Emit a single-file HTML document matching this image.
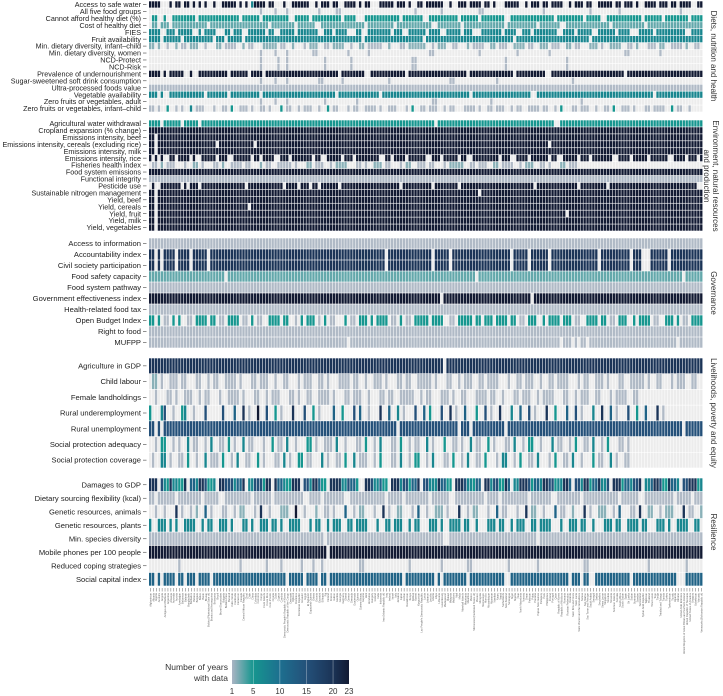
<!DOCTYPE html>
<html><head><meta charset="utf-8"><style>
html,body{margin:0;padding:0;background:#fff;}
svg{display:block;font-family:"Liberation Sans",sans-serif;}
</style></head><body>
<svg id="chart" width="723" height="696" viewBox="0 0 723 696" xmlns="http://www.w3.org/2000/svg">
<defs>
<linearGradient id="cbar" x1="0" x2="1" y1="0" y2="0">
<stop offset="0" stop-color="#aab4c3"/><stop offset="0.18" stop-color="#16968f"/><stop offset="0.41" stop-color="#1d6f8f"/><stop offset="0.64" stop-color="#245079"/><stop offset="0.86" stop-color="#1b3457"/><stop offset="1" stop-color="#121a33"/>
</linearGradient>
</defs>
<g id="cells"></g>
<g id="rowlabels"></g>
<g id="collabels"></g>
<g font-size="8" fill="#333">
<text transform="translate(711,56) rotate(90)" text-anchor="middle">Diets, nutrition and health</text>
<text transform="translate(713,176) rotate(90)" text-anchor="middle">Environment, natural resources</text>
<text transform="translate(704,176) rotate(90)" text-anchor="middle">and production</text>
<text transform="translate(711,293) rotate(90)" text-anchor="middle">Governance</text>
<text transform="translate(711,413) rotate(90)" text-anchor="middle">Livelihoods, poverty and equity</text>
<text transform="translate(711,532) rotate(90)" text-anchor="middle">Resilience</text>
</g>
<g>
<text x="228" y="670" text-anchor="end" font-size="8.5" fill="#333">Number of years</text>
<text x="228" y="681" text-anchor="end" font-size="8.5" fill="#333">with data</text>
<rect x="232" y="660" width="117" height="24" fill="url(#cbar)"/>
<g id="cbticks"></g>
</g>
</svg>
<script>
const NS="http://www.w3.org/2000/svg";
const codeYears={'.':0,a:1,b:2,c:3,d:5,e:7,f:12,g:15,h:20,z:23};
const colorStops=[1,5,10,15,20,23];
const colorHex=["#b0bac6","#16968f","#1d6f8f","#245079","#1b3457","#121a33"];
const cbTicks=[1,5,10,15,20,23];
const countries=["Afghanistan","Albania","Algeria","Andorra","Angola","Antigua and Barbuda","Argentina","Armenia","Australia","Austria","Azerbaijan","Bahamas","Bahrain","Bangladesh","Barbados","Belarus","Belgium","Belize","Benin","Bhutan","Bolivia (Plurinational State of)","Bosnia and Herzegovina","Botswana","Brazil","Brunei Darussalam","Bulgaria","Burkina Faso","Burundi","Cabo Verde","Cambodia","Cameroon","Canada","Central African Republic","Chad","Chile","China","Colombia","Comoros","Congo","Cook Islands","Costa Rica","Cote d'Ivoire","Croatia","Cuba","Cyprus","Czechia","Democratic People's Republic of Korea","Democratic Republic of the Congo","Denmark","Djibouti","Dominica","Dominican Republic","Ecuador","Egypt","El Salvador","Equatorial Guinea","Eritrea","Estonia","Eswatini","Ethiopia","Fiji","Finland","France","Gabon","Gambia","Georgia","Germany","Ghana","Greece","Grenada","Guatemala","Guinea","Guinea-Bissau","Guyana","Haiti","Honduras","Hungary","Iceland","India","Indonesia","Iran (Islamic Republic of)","Iraq","Ireland","Israel","Italy","Jamaica","Japan","Jordan","Kazakhstan","Kenya","Kiribati","Kuwait","Kyrgyzstan","Lao People's Democratic Republic","Latvia","Lebanon","Lesotho","Liberia","Libya","Lithuania","Luxembourg","Madagascar","Malawi","Malaysia","Maldives","Mali","Malta","Marshall Islands","Mauritania","Mauritius","Mexico","Micronesia (Federated States of)","Monaco","Mongolia","Montenegro","Morocco","Mozambique","Myanmar","Namibia","Nauru","Nepal","Netherlands","New Zealand","Nicaragua","Niger","Nigeria","Niue","North Macedonia","Norway","Oman","Pakistan","Palau","Panama","Papua New Guinea","Paraguay","Peru","Philippines","Poland","Portugal","Qatar","Republic of Korea","Republic of Moldova","Romania","Russian Federation","Rwanda","Saint Kitts and Nevis","Saint Lucia","Saint Vincent and the Grenadines","Samoa","San Marino","Sao Tome and Principe","Saudi Arabia","Senegal","Serbia","Seychelles","Sierra Leone","Singapore","Slovakia","Slovenia","Solomon Islands","Somalia","South Africa","South Sudan","Spain","Sri Lanka","Sudan","Suriname","Sweden","Switzerland","Syrian Arab Republic","Tajikistan","Thailand","Timor-Leste","Togo","Tonga","Trinidad and Tobago","Tunisia","Turkey","Turkmenistan","Tuvalu","Uganda","Ukraine","United Arab Emirates","United Kingdom of Great Britain and Northern Ireland","United Republic of Tanzania","United States of America","Uruguay","Uzbekistan","Vanuatu","Venezuela (Bolivarian Republic of)","Viet Nam","Yemen","Zambia"];

const dietLabels=["Access to safe water","All five food groups","Cannot afford healthy diet (%)","Cost of healthy diet","FIES","Fruit availability","Min. dietary diversity, infant–child","Min. dietary diversity, women","NCD-Protect","NCD-Risk","Prevalence of undernourishment","Sugar-sweetened soft drink consumption","Ultra-processed foods value","Vegetable availability","Zero fruits or vegetables, adult","Zero fruits or vegetables, infant–child"];
const dietRows=[
"z4 .3 z1 .1 z2 .1 z2 .1 z1 .1 z1 .1 z1 .2 z1 .2 z5 .1 z1 .1 z1 .1 e1 z4 .1 z2 .3 z1 .2 z6 .2 z1 .1 z3 .1 z2 .2 z4 .1 z1 .1 z2 .3 z5 .1 z3 .1 z1 .2 z2 .1 z6 .2 z1 .2 z3 .1 z4 .1 z2 .1 z1 .3 z5 .2 z1 .1 z3 .1 z2 .1 z4 .2 z1 .1 z3 .1 z2 .2 z5 .1 z2 .1 z3 .1 z1 .2 z4 .1 z3 .1 z2 .1 z4 .2 z3 .1 z2 .1 z5 .1 z3 .2 z4 .1 z2 .1 z6 .2 z3 .1 z4",
".38 a1 .4 a1 .3 a1 .10 a1 .5 a2 .25 a1 .8 a1 .12 a2 .20 a1 .15 a1 .9 a1 .20 a1 .14 a1 .30",
".1 d2 .2 d1 .2 d8 .1 d14 .1 d6 .1 d9 .2 d5 .1 d10 .1 d4 .3 d12 .1 d7 .2 d10 .1 d6 .1 d8 .2 d15 .1 d9 .1 d5 .2 d12 .1 d6 .1 d8 .1 d20 .1 d10",
".1 c2 .1 c3 .1 c12 .1 c20 .1 c8 .1 c6 .2 c15 .1 c9 .1 c12 .2 c8 .1 c14 .1 c10 .1 c7 .2 c15 .1 c11 .1 c20 .1 c14 .1 c10",
"e4 .2 e3 .1 e5 .2 e1 .1 e4 .3 e2 .1 e3 .2 e6 .1 e2 .2 e5 .1 e7 .2 e3 .1 e4 .3 e2 .2 e8 .1 e3 .2 e6 .1 e4 .2 e5 .1 e3 .3 e7 .1 e4 .2 e3 .1 e8 .2 e4 .1 e5 .2 e6 .1 e4 .3 e5 .1 e10 .2 e5 .1 e6",
"e4 .1 e6 .1 e10 .1 e3 .1 e5 .1 e40 .1 e20 .1 e30 .1 e25 .1 e40",
"b2 .1 b1 .2 a1 .2 b1 .1 a2 .1 b3 .2 a1 .3 b2 .1 a4 .2 b1 .1 a2 .3 b5 .1 a2 .2 b1 .3 a1 .1 b3 .2 a2 .1 b4 .2 a1 .2 b2 .1 a5 .2 b1 .3 a2 .1 b6 .2 a1 .1 b3 .2 a2 .3 b1 .1 a4 .2 b2 .1 a3 .2 b4 .1 a2 .2 b3 .1 a3 .2 b2 .1 a2 .3 b3 .1 a1 .2 b4 .2 a2 .1 b1 .3 a3 .1 b2 .2 a4 .1 b1 .2 a2 .1 b3 .3 a2 .1 b2",
".38 a1 .4 a1 .3 a1 .8 a2 .10 a1 .6 a1 .20 a2 .15 a1 .12 a1 .10 a1 .25 a2 .10 a1 .30",
".38 a1 .5 a1 .2 a1 .12 a1 .8 a1 .20 a2 .30 a1 .20 a1 .40",
".38 a1 .5 a1 .2 a1 .12 a1 .8 a1 .20 a2 .30 a1 .20 a1 .40",
"z4 .1 z1 .1 z5 .2 z1 .2 z10 .1 z6 .1 z4 .1 z25 .1 z8 .2 z12 .1 z20 .1 z15 .1 z10 .2 z25 .1 z30",
".38 a1 .4 a1 .3 a1 .10 a2 .6 a1 .15 a1 .20 a2 .14 a1 .25 a1 .40",
"a190",
"e3 .1 e1 .2 e12 .1 e7 .1 e10 .1 e25 .1 e14 .1 e30 .1 e20 .2 e40 .1 e20",
".38 a1 .4 a1 .3 a1 .12 a1 .10 a1 .25 a2 .18 a1 .30 a1 .40",
"a2 .1 a1 .2 d1 .2 a1 .1 a1 .2 e1 .1 a3 .3 a1 .2 a2 .1 d1 .2 a3 .1 a1 .2 a2 .1 a1 .3 d1 .1 a2 .2 a1 .1 a3 .2 a1 .2 d1 .1 a2 .3 a1 .1 a2 .2 a4 .1 a1 .2 a3 .3 a1 .1 d1 .2 a2 .1 a3 .2 a1 .1 a2 .3 a4 .1 a1 .2 a2 .1 a3 .2 a1 .1 a2 .2 a4 .1 a2 .2 a1 .1 d1 .3 a2 .1 a3 .2 a1 .2 a2 .1 d1 .2 a3 .1 a1 .3 a2 .1 a4 .2 d1 .1 a2 .2 a1"
];

const envLabels=["Agricultural water withdrawal","Cropland expansion (% change)","Emissions intensity, beef","Emissions intensity, cereals (excluding rice)","Emissions intensity, milk","Emissions intensity, rice","Fisheries health index","Food system emissions","Functional integrity","Pesticide use","Sustainable nitrogen management","Yield, beef","Yield, cereals","Yield, fruit","Yield, milk","Yield, vegetables"];
const envRows=[
"d4 .1 d6 .1 d5 .1 d80 .1 d40 .2 d60",
"z190",
"z2 .1 z187",
"z2 .1 z20 .1 z12 .1 z100 .1 z60",
"z2 .1 z187",
"z1 .1 z1 .1 z1 .2 z2 .1 z4 .1 z1 .2 z5 .1 z3 .2 z6 .1 z2 .1 z4 .2 z3 .1 z7 .1 z2 .2 z5 .1 z3 .1 z8 .2 z2 .1 z4 .1 z6 .2 z3 .1 z5 .1 z2 .2 z9 .1 z3 .2 z4 .1 z6 .1 z2 .2 z5 .1 z3 .1 z7 .2 z4 .1 z5 .1 z6 .2 z4 .1 z3 .1 z5",
".1 a2 .1 b1 .1 a3 .3 a1 .2 b2 .1 a1 .3 a2 .1 b1 .2 a4 .1 a2 .3 b1 .1 a2 .2 a5 .1 a1 .3 b2 .1 a3 .2 a1 .1 b4 .3 a2 .1 a1 .2 b3 .1 a2 .3 a1 .1 b2 .2 a3 .1 a2 .3 a1 .1 b5 .2 a2 .1 a3 .2 b2 .1 a4 .2 a1 .1 b3 .2 a2 .1 a1 .3 b2 .1 a3",
"z190",
"a190",
".1 z1 .2 z7 .1 z1 .1 z3 .1 z15 .1 z12 .1 z4 .1 z3 .1 z2 .1 z6 .1 z20 .1 z10 .1 z8 .1 z25 .1 z14 .1 z9 .1 z30",
"z2 .1 z110 .1 z76",
"z2 .1 z187",
"z2 .1 z31 .1 z155",
"z2 .1 z140 .1 z46",
"z2 .1 z187",
"z2 .1 z187"
];

const govLabels=["Access to information","Accountability index","Civil society participation","Food safety capacity","Food system pathway","Government effectiveness index","Health-related food tax","Open Budget Index","Right to food","MUFPP"];
const govRows=[
"a190",
"h2 .1 h1 .1 h4 .1 h4 .1 h5 .1 h60 .1 h15 .1 h5 .1 h20 .1 h5 .1 h6 .1 h16 .1 h10 .1 h3 .3 h6 .1 h15 .1 h20 .1 h10",
"h2 .1 h1 .1 h4 .1 h4 .1 h5 .1 h60 .1 h15 .1 h5 .1 h20 .1 h5 .1 h6 .1 h16 .1 h10 .1 h3 .3 h6 .1 h15 .1 h20 .1 h10",
"c26 .1 c85 .1 c70 .1 c6",
"a190",
"z100 .1 z30 .1 z58",
"a190",
"d2 .1 d1 .1 a2 .1 d1 .1 d1 .2 a2 .1 d4 .1 d2 .1 a2 .1 d4 .1 a2 .1 d1 .1 a2 .2 d4 .1 d2 .2 a1 .1 d1 .1 d3 .1 a1 .1 d1 .1 a2 .3 d1 .1 a2 .1 d3 .1 d1 .1 d4 .1 a2 .1 d1 .1 a2 .1 d5 .1 d4 .2 a2 .1 d5 .1 d2 .1 d3 .1 d4 .1 d2 .1 a2 .1 d3 .2 d1 .1 d4 .1 d3 .1 a2 .2 d4 .1 d2 .1 a2 .1 d3 .2 d1 .1 d4 .1 a2 .2 d3 .1 d1 .1 a2 .1 d4 .2 d2 .1 a1 .1 d3 .1 d5 .2 a2 .1 d4",
"a190",
"a68 .1 a72 .1 a3 .1 a1 .1 a2 .1 a30 .1 a12"
];

const livLabels=["Agriculture in GDP","Child labour","Female landholdings","Rural underemployment","Rural unemployment","Social protection adequacy","Social protection coverage"];
const livRows=[
"h101 .1 h88",
".1 b2 .1 a1 .2 a3 .1 a2 .3 a2 .2 a1 .1 a2 .2 a4 .1 a1 .3 a2 .1 a3 .2 a1 .2 a2 .3 a1 .1 a3 .2 a2 .1 a1 .3 a4 .1 a2 .2 a1 .2 a3 .1 a1 .3 a2 .1 a2 .2 a5 .1 a1 .3 a2 .2 a1 .1 a3 .2 a2 .1 a4 .3 a1 .2 a2 .1 a3 .2 a1 .2 a2 .1 a4 .3 a1 .1 a2 .2 a3 .1 a1 .3 a2 .2 a5 .1 a1 .2 a2 .3 a1 .1 a3 .2 a2",
".2 a1 .3 a2 .1 a1 .2 a3 .2 a1 .1 a2 .3 a1 .2 a4 .1 a1 .3 a2 .2 a1 .1 a3 .3 a2 .1 a1 .2 a2 .2 a4 .1 a1 .3 a2 .1 a3 .2 a1 .3 a2 .1 a2 .2 a5 .2 a1 .1 a2 .3 a3 .1 a1 .2 a2 .3 a4 .1 a2 .2 a1 .3 a2 .1 a3 .2 a1 .1 a4 .3 a2 .2 a1 .1 a3 .2 a2 .3 a1 .1 a4 .2 a2",
"d1 .3 e1 g1 .2 a1 .2 d1 e1 .2 a1 .3 g1 .5 g1 .3 f1 .2 h1 .1 a1 .2 z1 .2 g1 .2 d1 .1 a1 .3 h1 .3 g1 .2 d1 .1 a1 .4 f1 .2 d1 .3 g1 .1 f1 .2 a1 .3 h1 .2 f1 .2 e1 .1 a1 .3 g1 .2 f1 .1 d1 .3 g1 .2 h1 .1 a1 .2 f1 .3 d1 .2 g1 .1 a1 .2 h1 .3 e1 .2 f1 .2 g1 .1 a1 .3 h1 .2 d1 .3 f1 .2 g1 .1 a1 .3 e1 .2 h1 .2 f1 .1 a1 .3 g1 .2 d1 .2 f1 .3 h1 .1 a1",
"g2 .1 g1 .1 g80 .1 g20 .1 g3 .1 g11 .1 g60 .1 g20",
".2 a1 .1 d2 .2 a1 .1 a1 .2 e1 .1 a2 .2 a1 .1 e1 .2 a2 .1 d1 .1 a1 .2 e1 .1 a2 .3 a1 .2 d1 .1 a2 .1 e1 .2 a1 .3 d2 .1 a1 .2 a3 .1 e1 .2 a1 .3 a2 .1 d1 .2 a1 .1 e1 .3 a2 .1 d1 .2 a1 .1 a2 .2 e1 .1 a1 .3 d1 .2 a2 .1 a1 .2 e1 .1 a2 .2 d1 .1 a1 .3 a2 .1 e1 .2 a1 .1 d2 .2 a1 .3 e1 .1 a2 .2 a1 .1 d1 .2 a2 .1 e1 .2 a1 .1 d1 .3 a2 .1 a1",
".1 a1 .2 e2 .1 a1 .2 a2 .1 d1 .2 a1 .2 e1 .1 a3 .1 d1 .2 a1 .1 e1 .2 a2 .2 d1 .1 a1 .3 a2 .1 e1 .1 a1 .2 d2 .1 a2 .3 e1 .1 a1 .2 a2 .1 d1 .2 e1 .1 a3 .2 a1 .1 d1 .3 a2 .1 e1 .2 a1 .1 d2 .2 a1 .1 e1 .3 a2 .1 d1 .2 a1 .1 e1 .2 a2 .1 d1 .3 a1 .1 e2 .2 a1 .1 d1 .2 a2 .1 e1 .3 a1 .1 d1 .2 a2 .1 e1 .2 a1 .3 d1 .1 a2 .2 e1 .1 a1 .2 a2"
];

const resLabels=["Damages to GDP","Dietary sourcing flexibility (kcal)","Genetic resources, animals","Genetic resources, plants","Min. species diversity","Mobile phones per 100 people","Reduced coping strategies","Social capital index"];
const resRows=[
"h3 .1 g1 e1 d1 h1 e2 d2 h1 .1 f2 e1 h2 g1 d2 e1 .1 h2 g3 e1 f2 h1 .1 e2 g3 d1 h2 .1 h1 f2 e1 d2 h3 .1 g2 e1 h2 f1 d2 .1 h4 e2 g1 f2 d1 .2 h2 g1 e2 f1 d2 .1 h3 e1 g2 d1 f2 h1 .1 g2 e3 h1 f2 d2 .1 h3 g1 e2 d1 f2 .1 h2 e1 g2 d2 h1 f1 .1 e2 h3 g1 d1 f2 e1 h2 g2 d1 e2 h2 f1 .1 g2 e1 h2 d1 f2 h1 e2 g1 .1 h3 d1 f2 e1 g2 h1 .1 e2 f1 h2 g1 d2 h1 f2 e1 .1 g2 h3 d1 e2 f1 h2 g1",
"a2 .1 a6 .1 a8 .1 a5 .2 a9 .1 a6 .1 a10 .2 a4 .1 a7 .2 a12 .1 a5 .1 a8 .1 a6 .2 a10 .1 a4 .1 a9 .1 a7 .2 a8 .1 a12 .1 a6 .2 a10 .1 a5 .1 a10",
".2 a1 .2 a1 .3 h1 .1 a1 .2 a1 .1 b1 .2 f1 .1 a1 .3 a2 .2 a1 .1 b2 .3 a1 .1 h1 .2 a1 .3 b3 .2 z1 .2 a1 .3 b1 .2 a2 .1 a1 .3 f1 .2 a1 .1 b2 .3 a1 .2 h1 .1 a1 .2 b2 .3 a1 .1 f1 .2 a1 .2 b3 .1 a1 .3 h1 .2 a1 .1 b2 .3 a1 .2 f1 .1 a2 .3 a1 .2 h1 .1 b2 .2 a1 .3 f1 .1 a2 .2 b1 .3 h1 .1 a1 .2 b3 .2 a1 .1 f1 .3 a2 .1 h1 .2 b2 .2 a1 .1 b3 .3 h1 .1 a2 .2 b1 .3 a1 .1 f1 .2 b2",
"e1 .2 e3 .1 e1 .1 e1 .2 e4 .2 e1 .1 e2 .2 e3 .1 e1 .3 e2 .1 e1 .2 e3 .1 e2 .1 e1 .2 e4 .3 e1 .1 e2 .2 e1 .1 e3 .2 e2 .1 e4 .3 e1 .2 e2 .1 e3 .2 e1 .1 e2 .3 e3 .1 e1 .2 e4 .1 e2 .2 e1 .3 e3 .1 e2 .2 e1 .1 e3 .2 e2 .1 e4 .3 e1 .2 e3 .1 e2 .2 e1 .3 e3 .1 e2 .2 e4 .1 e2 .3 e3 .1 e1 .2 e4 .2 e2 .1 e3",
"a60 .1 a40 .2 a30 .1 a60",
"z61 .1 z128",
".10 a1 .20 a1 .8 a1 .4 a1 .6 a1 .3 a1 .2 a1 .12 a2 .15 a1 .10 a1 .8 a2 .12 a1 .9 a1 .15 a2 .20 a1 .12 a1 .10 a2 .8",
"f2 .1 f1 .1 f4 .1 f2 .1 f3 .1 f4 .1 f25 .1 f5 .1 f4 .1 f2 .1 f25 .1 f10 .1 f1 .1 f8 .1 f12 .2 f20 .1 f3 .1 f2 .2 f12 .1 f15 .3 f10 .1 f18 .1 f2 .1 f5 .1 f8 .1 f6 .1 f10"
];

// layout (not data)
const X0=149, X1=703;
const N=190;
const CW=(X1-X0)/N;
const panels=[
 {labels:dietLabels,rows:dietRows,top:1,bottom:112},
 {labels:envLabels,rows:envRows,top:120,bottom:231},
 {labels:govLabels,rows:govRows,top:238,bottom:348},
 {labels:livLabels,rows:livRows,top:358,bottom:468},
 {labels:resLabels,rows:resRows,top:478,bottom:586}
];

function expand(s){
  const out=[];
  s.trim().split(/\s+/).forEach(function(t){
    const c=t[0]; const k=t.length>1?parseInt(t.slice(1),10):1;
    for(let i=0;i<k;i++) out.push(c);
  });
  return out;
}
function hex2rgb(h){return [1,3,5].map(function(i){return parseInt(h.slice(i,i+2),16);});}
function colorFor(v){
  if(v<=colorStops[0]) return colorHex[0];
  for(let i=1;i<colorStops.length;i++){
    if(v<=colorStops[i]){
      const t=(v-colorStops[i-1])/(colorStops[i]-colorStops[i-1]);
      const a=hex2rgb(colorHex[i-1]), b=hex2rgb(colorHex[i]);
      return "rgb("+a.map(function(x,j){return Math.round(x+(b[j]-x)*t);}).join(",")+")";
    }
  }
  return colorHex[colorHex.length-1];
}
function xScale(i){return X0+i*CW;}

const cellsG=document.getElementById('cells');
const labG=document.getElementById('rowlabels');
panels.forEach(function(p,pi){
  const rh=(p.bottom-p.top)/p.labels.length;
  p.labels.forEach(function(lab,ri){
    const y=p.top+ri*rh;
    const codes=expand(p.rows[ri]);
    for(let c=0;c<N;c++){
      const code=codes[c]||'.';
      const v=codeYears[code]||0;
      const r=document.createElementNS(NS,'rect');
      r.setAttribute('x',xScale(c).toFixed(2));
      r.setAttribute('y',(y+0.3).toFixed(2));
      r.setAttribute('width',(CW-0.55).toFixed(2));
      r.setAttribute('height',(rh-0.6).toFixed(2));
      r.setAttribute('fill',v>0?colorFor(v):'#ececec');
      
      
      cellsG.appendChild(r);
    }
    const t=document.createElementNS(NS,'text');
    t.setAttribute('x',141);
    t.setAttribute('y',(y+rh/2+2.6).toFixed(2));
    t.setAttribute('text-anchor','end');
    t.setAttribute('font-size',pi<2?'7.2':'7.6');
    t.setAttribute('fill','#222');
    t.textContent=lab;
    
    
    labG.appendChild(t);
    const tk=document.createElementNS(NS,'line');
    tk.setAttribute('x1',143);tk.setAttribute('x2',146.5);
    tk.setAttribute('y1',y+rh/2);tk.setAttribute('y2',y+rh/2);
    tk.setAttribute('stroke','#444');tk.setAttribute('stroke-width','0.6');
    
    
    labG.appendChild(tk);
  });
});

const colG=document.getElementById('collabels');
countries.slice(0,N).forEach(function(name,i){
  const cx=xScale(i)+CW/2;
  const tk=document.createElementNS(NS,'line');
  tk.setAttribute('x1',cx);tk.setAttribute('x2',cx);
  tk.setAttribute('y1',588);tk.setAttribute('y2',591.5);
  tk.setAttribute('stroke','#666');tk.setAttribute('stroke-width','0.5');
  
  
  colG.appendChild(tk);
  const t=document.createElementNS(NS,'text');
  t.setAttribute('transform','translate('+(cx+0.9).toFixed(2)+',593) rotate(-90)');
  t.setAttribute('text-anchor','end');
  t.setAttribute('font-size','2.6');
  t.setAttribute('fill','#666');
  t.textContent=name;
  
  
  colG.appendChild(t);
});

const cbG=document.getElementById('cbticks');
function cbX(v){return 232+(v-1)/22*117;}
cbTicks.forEach(function(v){
  const x=cbX(v);
  if(v>1&&v<23){
    const l=document.createElementNS(NS,'line');
    l.setAttribute('x1',x);l.setAttribute('x2',x);l.setAttribute('y1',660);l.setAttribute('y2',684);
    l.setAttribute('stroke','#ffffff');l.setAttribute('stroke-opacity','0.5');l.setAttribute('stroke-width','0.6');
    
    
    cbG.appendChild(l);
  }
  const t=document.createElementNS(NS,'text');
  t.setAttribute('x',x);t.setAttribute('y',694);
  t.setAttribute('text-anchor','middle');t.setAttribute('font-size','8');t.setAttribute('fill','#333');
  t.textContent=String(v);
  
  
  cbG.appendChild(t);
});
</script>
</body></html>
